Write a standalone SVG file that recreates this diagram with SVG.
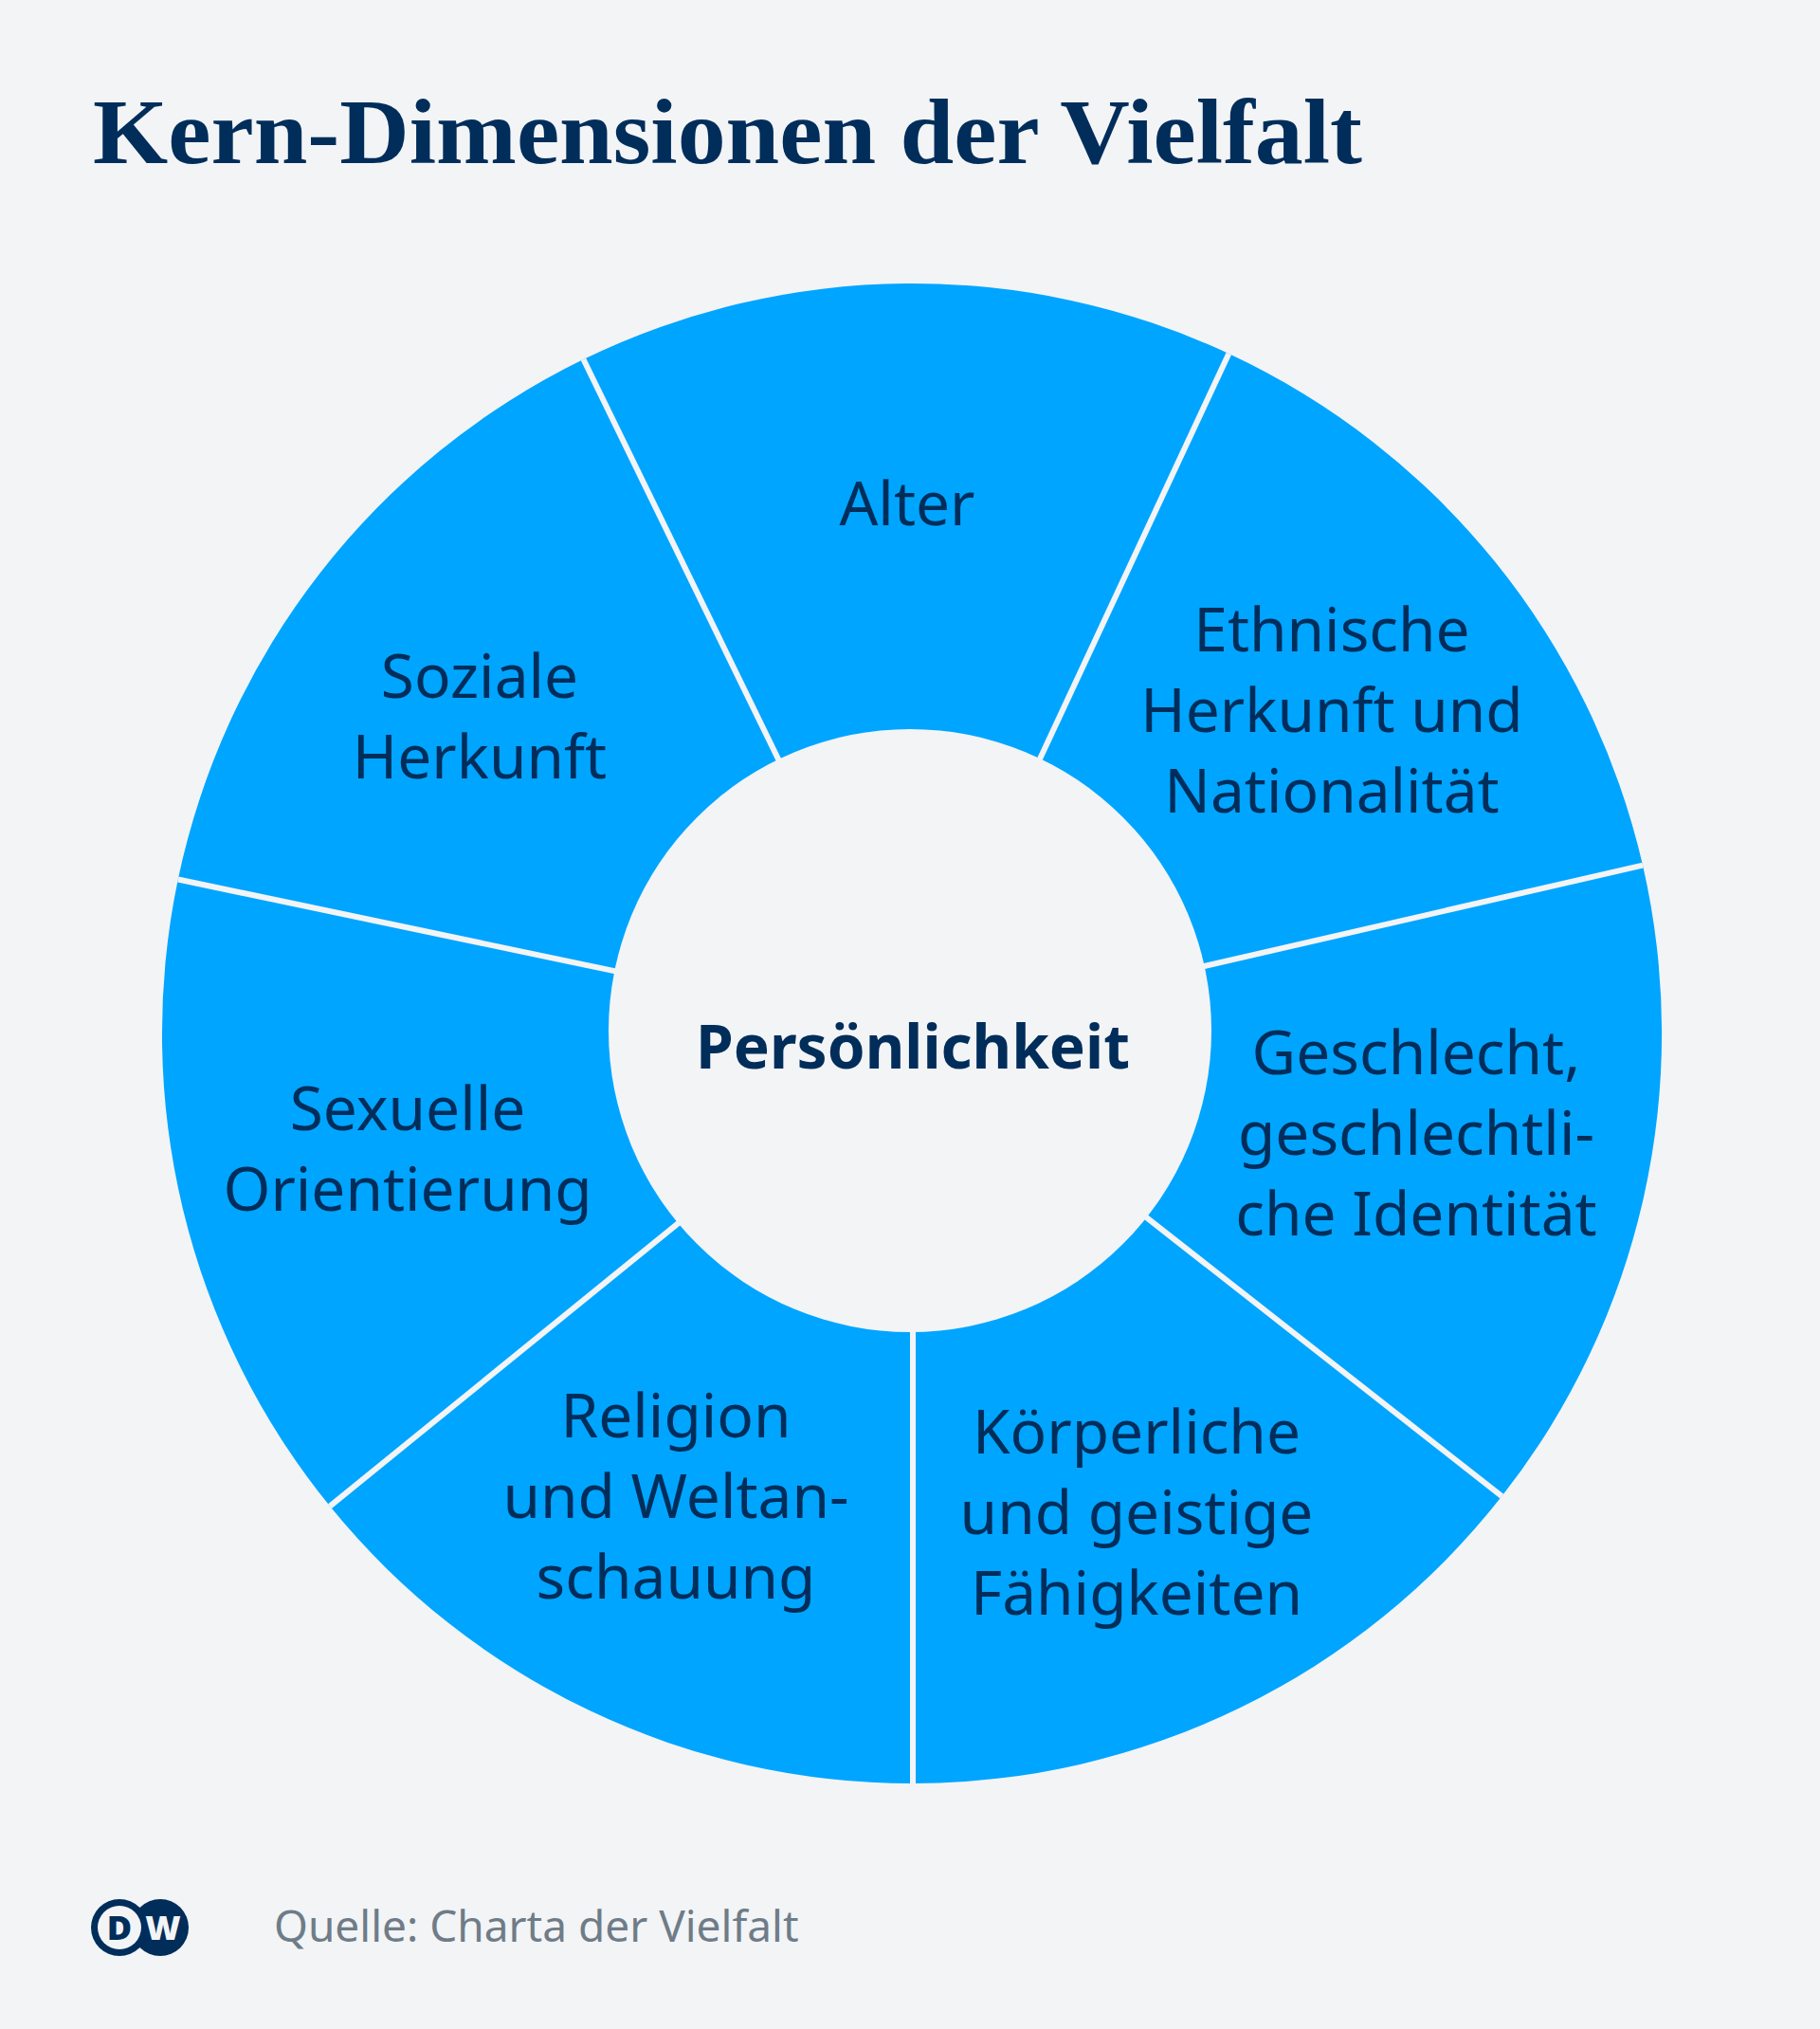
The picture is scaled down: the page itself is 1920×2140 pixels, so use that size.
<svg xmlns="http://www.w3.org/2000/svg" width="1920" height="2140" viewBox="0 0 1920 2140">
<style>
.bg{fill:#f2f4f6}
.seg{fill:#00a5ff}
.sep{stroke:#f2f4f6;stroke-width:6;fill:none}
.t{font-family:"Noto Sans","Open Sans",sans-serif;font-size:64px;fill:#002d5a;text-anchor:middle}
.b{font-weight:700}
.title{font-family:"Liberation Serif",serif;font-weight:700;font-size:97px;fill:#002d5a}
.src{font-family:"Noto Sans","Open Sans",sans-serif;font-size:46px;fill:#6f7c87}
</style>
<rect class="bg" width="1920" height="2140"/>
<text id="title" class="title" x="98" y="172" textLength="1339" lengthAdjust="spacingAndGlyphs">Kern-Dimensionen der Vielfalt</text>
<g id="alter"><path class="seg" d="M615.5 379A791 791 0 0 1 1296.3 373L1088.8 818.1A300 300 0 0 0 830.6 820.3Z"/><text class="t" x="957" y="554">Alter</text></g>
<g id="ethnische-herkunft"><path class="seg" d="M1296.3 373A791 791 0 0 1 1733 912.6L1254.4 1022.7A300 300 0 0 0 1088.8 818.1Z"/><text class="t" x="1405" y="687">Ethnische</text><text class="t" x="1405" y="772">Herkunft und</text><text class="t" x="1405" y="857">Nationalität</text></g>
<g id="geschlecht"><path class="seg" d="M1733 912.6A791 791 0 0 1 1584.4 1578.1L1198 1275.1A300 300 0 0 0 1254.4 1022.7Z"/><text class="t" x="1494" y="1133">Geschlecht,</text><text class="t" x="1494" y="1218">geschlechtli-</text><text class="t" x="1494" y="1303">che Identität</text></g>
<g id="faehigkeiten"><path class="seg" d="M1584.4 1578.1A791 791 0 0 1 963 1881L963 1390A300 300 0 0 0 1198 1275.1Z"/><text class="t" x="1199" y="1533">Körperliche</text><text class="t" x="1199" y="1618">und geistige</text><text class="t" x="1199" y="1703">Fähigkeiten</text></g>
<g id="religion"><path class="seg" d="M963 1881A791 791 0 0 1 348 1588.6L729.1 1279.1A300 300 0 0 0 963 1390Z"/><text class="t" x="713" y="1516">Religion</text><text class="t" x="713" y="1601">und Weltan-</text><text class="t" x="713" y="1686">schauung</text></g>
<g id="sexuelle-orientierung"><path class="seg" d="M348 1588.6A791 791 0 0 1 187.8 927.5L668.4 1028.4A300 300 0 0 0 729.1 1279.1Z"/><text class="t" x="430" y="1192">Sexuelle</text><text class="t" x="430" y="1277">Orientierung</text></g>
<g id="soziale-herkunft"><path class="seg" d="M187.8 927.5A791 791 0 0 1 615.5 379L830.6 820.3A300 300 0 0 0 668.4 1028.4Z"/><text class="t" x="506" y="736">Soziale</text><text class="t" x="506" y="821">Herkunft</text></g>
<g id="connectors">
<line class="sep" x1="615.5" y1="379" x2="830.6" y2="820.3"/>
<line class="sep" x1="1296.3" y1="373" x2="1088.8" y2="818.1"/>
<line class="sep" x1="1733" y1="912.6" x2="1254.4" y2="1022.7"/>
<line class="sep" x1="1584.4" y1="1578.1" x2="1198" y2="1275.1"/>
<line class="sep" x1="963" y1="1881" x2="963" y2="1390"/>
<line class="sep" x1="348" y1="1588.6" x2="729.1" y2="1279.1"/>
<line class="sep" x1="187.8" y1="927.5" x2="668.4" y2="1028.4"/>
</g>
<g id="persoenlichkeit"><circle class="bg" cx="960" cy="1087" r="318"/><text class="t b" x="963" y="1127">Persönlichkeit</text></g>
<g id="logo">
<circle cx="169" cy="2033" r="30" fill="#002d5a"/>
<circle cx="126" cy="2033" r="30" fill="#002d5a"/>
<circle class="bg" cx="126" cy="2033" r="23"/>
<text x="126" y="2046" font-family="Noto Sans,sans-serif" font-weight="900" font-size="36" fill="#002d5a" text-anchor="middle">D</text>
<text x="172" y="2046" font-family="Noto Sans,sans-serif" font-weight="900" font-size="36" fill="#f2f4f6" text-anchor="middle">W</text>
</g>
<text id="source" class="src" x="289" y="2048">Quelle: Charta der Vielfalt</text>
</svg>
